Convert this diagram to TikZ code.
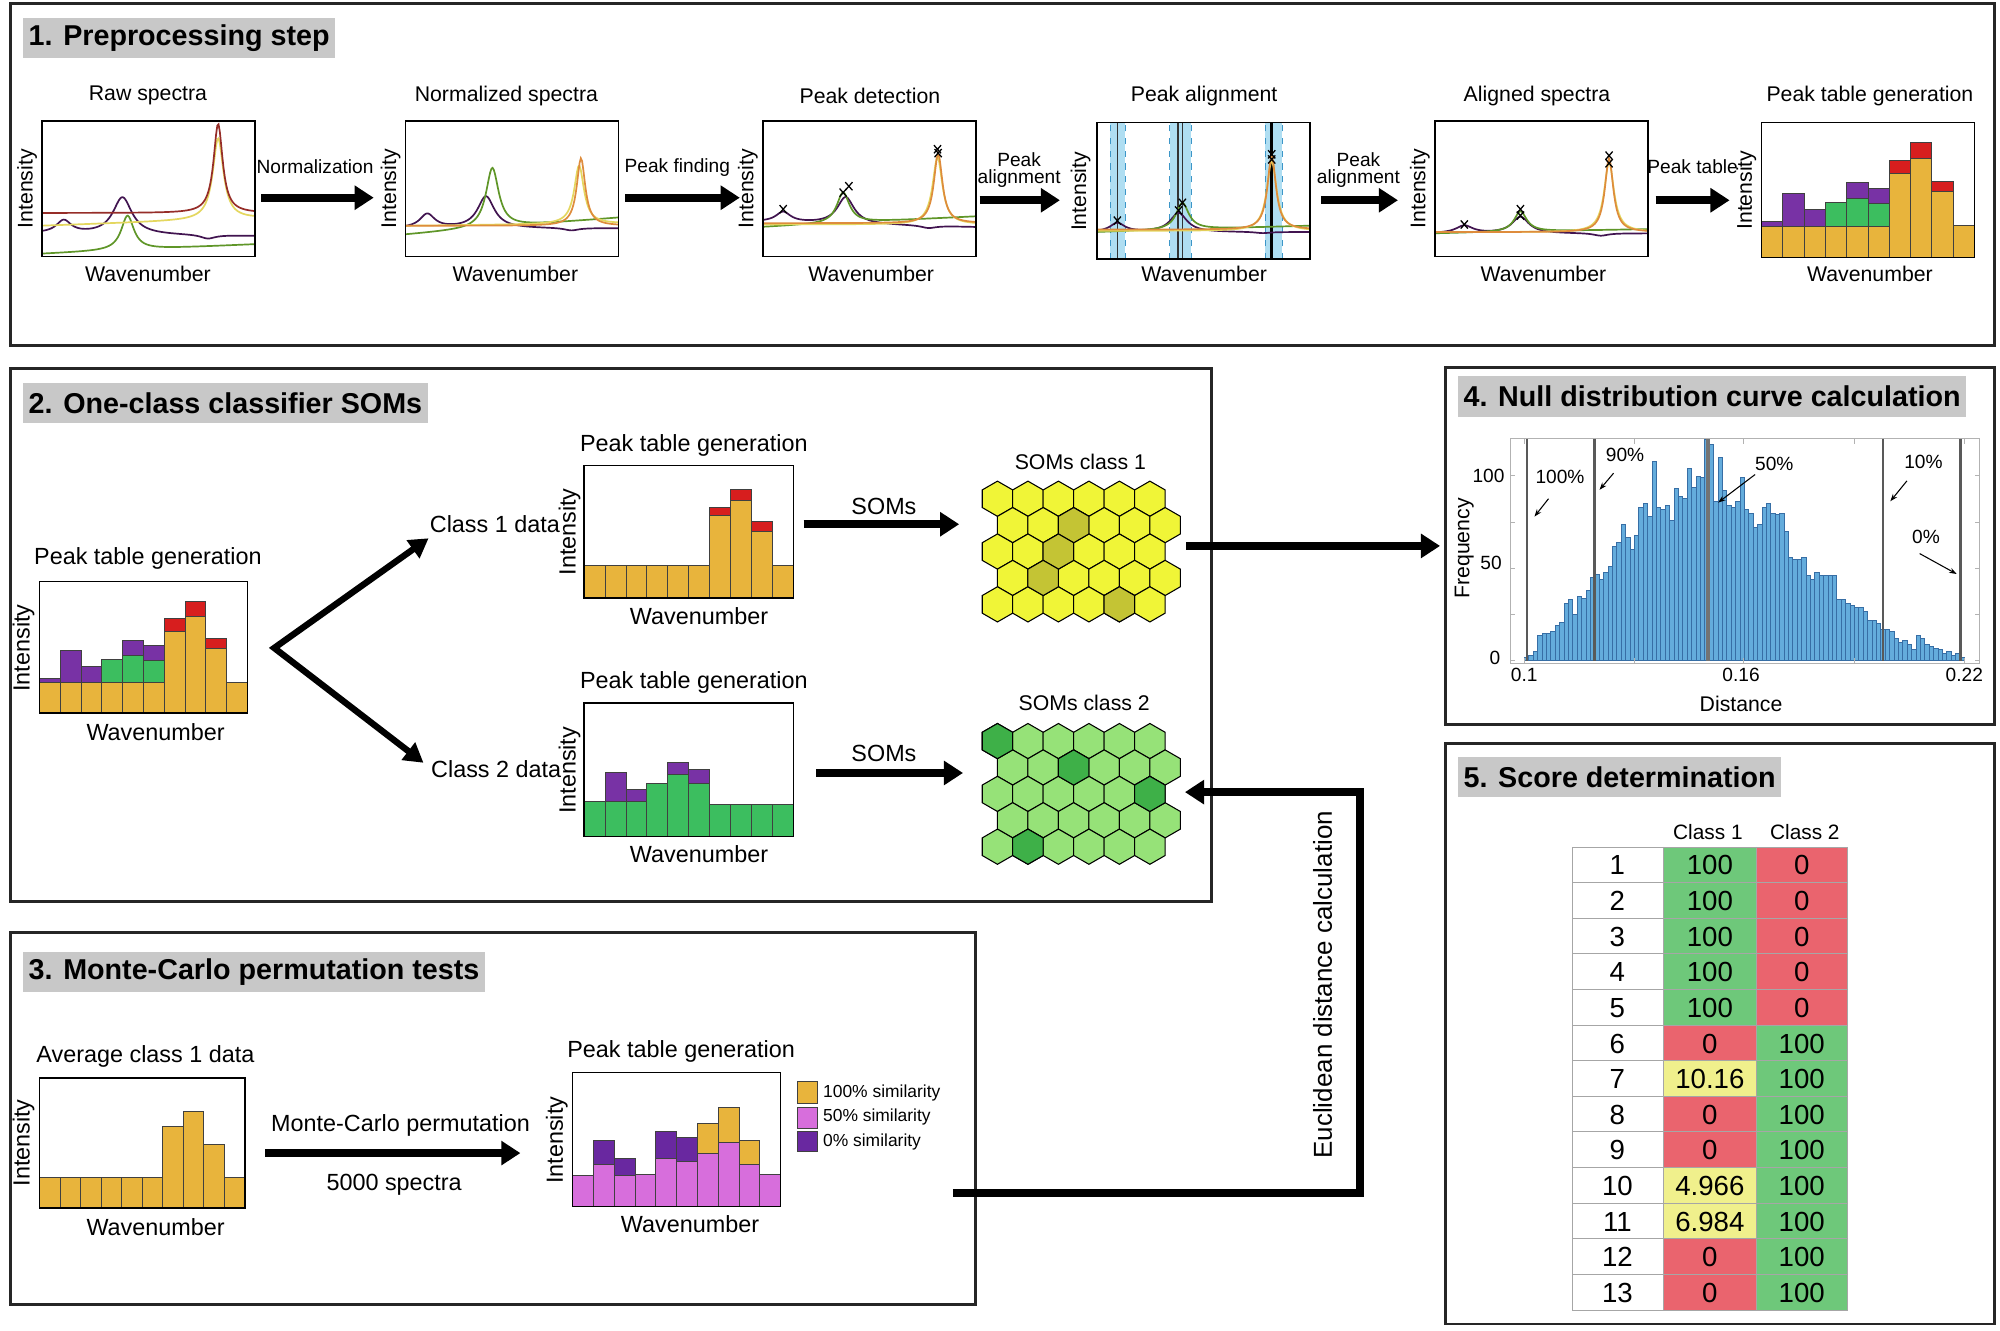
\documentclass[tikz,border=0pt]{standalone}
\usepackage{fontspec}
\setmainfont{Liberation Sans}
\usetikzlibrary{arrows.meta}
\definecolor{gold}{RGB}{232,180,60}
\definecolor{vio}{RGB}{120,50,165}
\definecolor{grn}{RGB}{60,190,95}
\definecolor{rd}{RGB}{215,30,30}
\definecolor{pink}{RGB}{215,110,220}
\definecolor{dvio}{RGB}{105,40,160}
\definecolor{titlegray}{RGB}{200,200,200}
\definecolor{cDR}{RGB}{150,45,40}
\definecolor{cYE}{RGB}{228,215,95}
\definecolor{cOR}{RGB}{222,140,60}
\definecolor{cPU}{RGB}{65,20,80}
\definecolor{cGR}{RGB}{95,150,40}
\definecolor{band}{RGB}{175,222,242}
\definecolor{bandline}{RGB}{60,150,200}
\definecolor{hexY}{RGB}{240,245,55}
\definecolor{hexYd}{RGB}{196,196,52}
\definecolor{hexG}{RGB}{150,226,120}
\definecolor{hexGd}{RGB}{62,176,72}
\definecolor{histfill}{RGB}{100,172,220}
\definecolor{histedge}{RGB}{55,110,165}
\definecolor{tgreen}{RGB}{110,200,122}
\definecolor{tred}{RGB}{234,100,110}
\definecolor{tyellow}{RGB}{240,240,140}
\newcommand\fsz[1]{\fontsize{#1}{#1}\selectfont}
\newcommand\seg[4]{\draw[barline, fill=#4] ({#1-1},#2) rectangle (#1,#3);}
\newcommand\xmk[2]{\draw[xmark] ({#1-2.8},{#2-3.2}) -- ({#1+2.8},{#2+3.2}) ({#1-2.8},{#2+3.2}) -- ({#1+2.8},{#2-3.2});}
\newcommand\hexgrid[5]{%
  \foreach \hr in {0,...,4}{\foreach \hc in {0,...,5}{%
    \pgfmathsetmacro\hx{#1+\hc*23.9+mod(\hr,2)*11.95}%
    \pgfmathsetmacro\hy{#2+\hr*20.7}%
    \draw[hexline, fill=#3] (\hx,\hy) +(30:13.8) -- +(90:13.8) -- +(150:13.8) -- +(210:13.8) -- +(270:13.8) -- +(330:13.8) -- cycle;}}%
  \foreach \hr/\hc in {#5}{%
    \pgfmathsetmacro\hx{#1+\hc*23.9+mod(\hr,2)*11.95}%
    \pgfmathsetmacro\hy{#2+\hr*20.7}%
    \draw[hexline, fill=#4] (\hx,\hy) +(30:13.8) -- +(90:13.8) -- +(150:13.8) -- +(210:13.8) -- +(270:13.8) -- +(330:13.8) -- cycle;}%
}
\newcommand\fullbars{%
  \seg{1}{0}{24.7}{gold}\seg{1}{24.7}{28}{vio}
  \seg{2}{0}{24.7}{gold}\seg{2}{24.7}{50.5}{vio}
  \seg{3}{0}{24.7}{gold}\seg{3}{24.7}{37.5}{vio}
  \seg{4}{0}{24.7}{gold}\seg{4}{24.7}{43.5}{grn}
  \seg{5}{0}{24.7}{gold}\seg{5}{24.7}{46.6}{grn}\seg{5}{46.6}{58.6}{vio}
  \seg{6}{0}{24.7}{gold}\seg{6}{24.7}{42.7}{grn}\seg{6}{42.7}{54.4}{vio}
  \seg{7}{0}{66}{gold}\seg{7}{66}{76}{rd}
  \seg{8}{0}{78}{gold}\seg{8}{78}{90}{rd}
  \seg{9}{0}{52}{gold}\seg{9}{52}{60}{rd}
  \seg{10}{0}{25}{gold}}
\tikzset{
  declare function={lor(\qa,\qb,\qc)=1/(1+((\qa-\qb)/\qc)*((\qa-\qb)/\qc));},
  panel/.style={draw=black!85, line width=1.4pt},
  ttl/.style={fill=titlegray, anchor=west, inner xsep=2.5pt, inner ysep=0pt, minimum height=19pt, font=\fsz{13.5}\bfseries},
  chartbox/.style={draw=black, line width=0.7pt},
  lblA/.style={font=\fsz{10}, inner sep=1pt},
  lblB/.style={font=\fsz{11}, inner sep=1pt},
  ylab/.style={rotate=90, anchor=south, inner sep=1pt},
  bigarrow/.style={line width=3.8pt, -{Triangle[length=9pt,width=11pt]}},
  branch/.style={line width=3pt, {Triangle[length=9pt,width=10pt]}-{Triangle[length=9pt,width=10pt]}},
  sp/.style={line width=0.8pt},
  xmark/.style={line width=0.6pt},
  barline/.style={draw=black!75, line width=0.45pt},
  hexline/.style={draw=black, line width=0.5pt},
  histbar/.style={fill=histfill, draw=histedge, line width=0.25pt},
  vline/.style={draw=black!65, line width=1.1pt},
  pctarrow/.style={line width=0.5pt, -{Stealth[length=3.5pt,width=2.5pt]}},
  tcell/.style={font=\fsz{13}, inner sep=0pt},
  tline/.style={draw=black!35, line width=0.4pt},
}
\begin{document}
\begin{tikzpicture}[x=0.6pt, y=-0.6pt]
\fill[white] (0,0) rectangle (1568,1043);
\useasboundingbox (0,0) rectangle (1568,1043);

% ================= Panel 1 =================
\draw[panel] (8,3) rectangle (1564,271);
\node[ttl] (t1) at (18,30) {1. Preprocessing step};

% --- Raw spectra
\node[lblA] (h11) at (116,75) {Raw spectra};
\begin{scope}[shift={(33,201)}, y=0.6pt]
  \clip (0,0) rectangle (167,106);
  \draw[sp,cGR] plot[domain=0:167,samples=170] (\x,{2+0.045*\x+27*lor(\x,67,6)});
  \draw[sp,cPU] plot[domain=0:167,samples=170] (\x,{18-2*\x/167+10*lor(\x,17,7)+29*lor(\x,63,9)-3*lor(\x,130,7)});
  \draw[sp,cYE] plot[domain=0:167,samples=170] (\x,{24+0.035*\x+64*lor(\x,138,5)});
  \draw[sp,cDR] plot[domain=0:167,samples=170] (\x,{34+70*lor(\x,138,4.3)});
\end{scope}
\draw[chartbox] (33,95) rectangle (200,201);
\node[lblA, ylab] at (31,148) {Intensity};
\node[lblA] at (116,215) {Wavenumber};

% --- Normalized spectra
\node[lblA] (h12) at (397,75) {Normalized spectra};
\begin{scope}[shift={(318,201)}, y=0.6pt]
  \clip (0,0) rectangle (167,106);
  \draw[sp,cPU] plot[domain=0:167,samples=170] (\x,{22+11*lor(\x,17,7)+25*lor(\x,63,8)-2*lor(\x,130,7)});
  \draw[sp,cGR] plot[domain=0:167,samples=170] (\x,{17+0.08*\x+47*lor(\x,68,6)});
  \draw[sp,cYE] plot[domain=0:167,samples=170] (\x,{24+0.01*\x+46*lor(\x,136,4.6)});
  \draw[sp,cOR] plot[domain=0:167,samples=170] (\x,{24+53*lor(\x,137.5,4)});
\end{scope}
\draw[chartbox] (318,95) rectangle (485,201);
\node[lblA, ylab] at (316,148) {Intensity};
\node[lblA] at (404,215) {Wavenumber};

% --- Peak detection
\node[lblA] (h13) at (682,75) {Peak detection};
\begin{scope}[shift={(598,201)}, y=0.6pt]
  \clip (0,0) rectangle (167,106);
  \draw[sp,cPU] plot[domain=0:167,samples=170] (\x,{27-4*\x/167+8*lor(\x,16,7)+21*lor(\x,65,8)-2*lor(\x,130,7)});
  \draw[sp,cGR] plot[domain=0:167,samples=170] (\x,{23+0.05*\x+24*lor(\x,63,6)});
  \draw[sp,cYE] plot[domain=0:167,samples=170] (\x,{25+53*lor(\x,137,4.6)});
  \draw[sp,cOR] plot[domain=0:167,samples=170] (\x,{26+55*lor(\x,137.5,4)});
  \xmk{16}{37}\xmk{63}{50}\xmk{67.5}{55}\xmk{137}{84}\xmk{137.5}{81}
\end{scope}
\draw[chartbox] (598,95) rectangle (765,201);
\node[lblA, ylab] at (596,148) {Intensity};
\node[lblA] at (683,215) {Wavenumber};

% --- Peak alignment
\node[lblA] (h14) at (944,75) {Peak alignment};
\begin{scope}[shift={(860,203)}, y=0.6pt]
  \clip (0,0) rectangle (167,107);
  \fill[band] (10.5,0) rectangle (22,107);
  \fill[band] (57,0) rectangle (74,107);
  \fill[band] (132,0) rectangle (145,107);
  \foreach \bx in {10.5,22,57,74,132,145}{\draw[bandline, dashed, line width=0.3pt] (\bx,0) -- (\bx,107);}
  \draw[line width=0.6pt, black!80] (16,0) -- (16,107);
  \draw[line width=0.6pt, black!80] (63.5,0) -- (63.5,107);
  \draw[line width=0.6pt, black!80] (67,0) -- (67,107);
  \draw[line width=1.3pt, black] (137,0) -- (137,107);
  \draw[sp,cPU] plot[domain=0:167,samples=170] (\x,{21+7*lor(\x,16,7)+15*lor(\x,64,8)-1*lor(\x,130,7)});
  \draw[sp,cGR] plot[domain=0:167,samples=170] (\x,{21+0.03*\x+21*lor(\x,67,6)});
  \draw[sp,cYE] plot[domain=0:167,samples=170] (\x,{22+55*lor(\x,137,4.6)});
  \draw[sp,cOR] plot[domain=0:167,samples=170] (\x,{23+58*lor(\x,137,4)});
  \xmk{16}{30}\xmk{64}{38}\xmk{67}{44}\xmk{137}{82}\xmk{137}{78}
\end{scope}
\draw[chartbox] (860,96) rectangle (1027,203);
\node[lblA, ylab] at (857,150) {Intensity};
\node[lblA] at (944,215) {Wavenumber};

% --- Aligned spectra
\node[lblA] (h15) at (1205,75) {Aligned spectra};
\begin{scope}[shift={(1125,201)}, y=0.6pt]
  \clip (0,0) rectangle (167,106);
  \draw[sp,cPU] plot[domain=0:167,samples=170] (\x,{18+6*lor(\x,23,8)+13*lor(\x,67,8)-2*lor(\x,130,7)});
  \draw[sp,cGR] plot[domain=0:167,samples=170] (\x,{18+0.02*\x+16*lor(\x,67,6)});
  \draw[sp,cYE] plot[domain=0:167,samples=170] (\x,{19+55*lor(\x,136.5,4.6)});
  \draw[sp,cOR] plot[domain=0:167,samples=170] (\x,{19+58*lor(\x,136.5,4)});
  \xmk{23}{25}\xmk{67}{37}\xmk{67}{32}\xmk{136.5}{79}\xmk{136.5}{73}
\end{scope}
\draw[chartbox] (1125,95) rectangle (1292,201);
\node[lblA, ylab] at (1123,148) {Intensity};
\node[lblA] at (1210,215) {Wavenumber};

% --- Peak table generation
\node[lblA] (h16) at (1466,75) {Peak table generation};
\begin{scope}[shift={(1381,202)}, y=0.6pt, x=10.02pt]
  \fullbars
\end{scope}
\draw[chartbox] (1381,96) rectangle (1548,202);
\node[lblA, ylab] at (1379,149) {Intensity};
\node[lblA] at (1466,215) {Wavenumber};

% arrows panel 1
\coordinate (a1s) at (205,155); \coordinate (a1e) at (293,155);
\coordinate (a2s) at (490,155); \coordinate (a2e) at (580,155);
\coordinate (a3s) at (768,157); \coordinate (a3e) at (831,157);
\coordinate (a4s) at (1036,157); \coordinate (a4e) at (1096,157);
\coordinate (a5s) at (1298,157); \coordinate (a5e) at (1356,157);
\draw[bigarrow] (a1s) -- (a1e);
\draw[bigarrow] (a2s) -- (a2e);
\draw[bigarrow] (a3s) -- (a3e);
\draw[bigarrow] (a4s) -- (a4e);
\draw[bigarrow] (a5s) -- (a5e);
\node[font=\fsz{9}, inner sep=0pt] at (247,131) {Normalization};
\node[font=\fsz{9}, inner sep=0pt] at (531,131) {Peak finding};
\node[font=\fsz{9}, inner sep=0pt, align=center] at (799,133) {Peak\\[-1pt]alignment};
\node[font=\fsz{9}, inner sep=0pt, align=center] at (1065,133) {Peak\\[-1pt]alignment};
\node[font=\fsz{9}, inner sep=0pt] at (1327,131) {Peak table};

% ================= Panel 2 =================
\draw[panel] (8,289) rectangle (950,707);
\node[ttl] (t2) at (18,316) {2. One-class classifier SOMs};

\node[lblB] at (116,438) {Peak table generation};
\begin{scope}[shift={(31,559)}, y=0.583pt, x=9.78pt]
  \fullbars
\end{scope}
\draw[chartbox] (31,456) rectangle (194,559);
\node[lblB, ylab] at (29,508) {Intensity};
\node[lblB] at (122,574) {Wavenumber};

% top chart class 1
\node[lblB] at (544,349) {Peak table generation};
\begin{scope}[shift={(458,469)}, y=0.6pt, x=9.84pt]
  \seg{1}{0}{25.4}{gold}\seg{2}{0}{25.4}{gold}\seg{3}{0}{25.4}{gold}
  \seg{4}{0}{25.4}{gold}\seg{5}{0}{25.4}{gold}\seg{6}{0}{25.4}{gold}
  \seg{7}{0}{65}{gold}\seg{7}{65}{71}{rd}
  \seg{8}{0}{77}{gold}\seg{8}{77}{85.6}{rd}
  \seg{9}{0}{52}{gold}\seg{9}{52}{60}{rd}
  \seg{10}{0}{25.4}{gold}
\end{scope}
\draw[chartbox] (458,365) rectangle (622,469);
\node[lblB, ylab] at (457,417) {Intensity};
\node[lblB] at (548,483) {Wavenumber};

% bottom chart class 2
\node[lblB] at (544,535) {Peak table generation};
\begin{scope}[shift={(458,656)}, y=0.6pt, x=9.84pt]
  \seg{1}{0}{28}{grn}
  \seg{2}{0}{28}{grn}\seg{2}{28}{50}{vio}
  \seg{3}{0}{28}{grn}\seg{3}{28}{37}{vio}
  \seg{4}{0}{42}{grn}
  \seg{5}{0}{49}{grn}\seg{5}{49}{58}{vio}
  \seg{6}{0}{41.5}{grn}\seg{6}{41.5}{53}{vio}
  \seg{7}{0}{25}{grn}\seg{8}{0}{25}{grn}\seg{9}{0}{25}{grn}\seg{10}{0}{25}{grn}
\end{scope}
\draw[chartbox] (458,551) rectangle (622,656);
\node[lblB, ylab] at (457,604) {Intensity};
\node[lblB] at (548,670) {Wavenumber};

\node[lblB] (cl1) at (388,411) {Class 1 data};
\node[lblB] (cl2) at (389,603) {Class 2 data};
\coordinate (fork) at (215,508);
\coordinate (c1in) at (336,422);
\coordinate (c2in) at (332,598);
\draw[branch] (c1in) -- (fork) -- (c2in);

\coordinate (s1s) at (630,411); \coordinate (s1e) at (752,411);
\coordinate (s2s) at (640,606); \coordinate (s2e) at (755,606);
\draw[bigarrow] (s1s) -- (s1e);
\draw[bigarrow] (s2s) -- (s2e);
\node[lblB] at (693,397) {SOMs};
\node[lblB] at (693,591) {SOMs};

\node[lblA] (som1) at (847,362) {SOMs class 1};
\hexgrid{782}{391}{hexY}{hexYd}{1/2,2/2,3/1,4/4}
\node[lblA] (som2) at (850,551) {SOMs class 2};
\hexgrid{782}{581}{hexG}{hexGd}{0/0,1/2,2/5,4/1}

% ================= Panel 3 =================
\draw[panel] (8,731) rectangle (765,1023);
\node[ttl] (t3) at (18,762) {3. Monte-Carlo permutation tests};

\node[lblB] at (114,828) {Average class 1 data};
\begin{scope}[shift={(31,947)}, y=0.6pt, x=9.66pt]
  \seg{1}{0}{24}{gold}\seg{2}{0}{24}{gold}\seg{3}{0}{24}{gold}
  \seg{4}{0}{24}{gold}\seg{5}{0}{24}{gold}\seg{6}{0}{24}{gold}
  \seg{7}{0}{64}{gold}\seg{8}{0}{76}{gold}\seg{9}{0}{50}{gold}\seg{10}{0}{24}{gold}
\end{scope}
\draw[chartbox] (31,845) rectangle (192,947);
\node[lblB, ylab] at (29,896) {Intensity};
\node[lblB] at (122,962) {Wavenumber};

\node[lblB] at (534,824) {Peak table generation};
\begin{scope}[shift={(449,946)}, y=0.6pt, x=9.78pt]
  \seg{1}{0}{24.4}{pink}
  \seg{2}{0}{33}{pink}\seg{2}{33}{51.5}{dvio}
  \seg{3}{0}{24.4}{pink}\seg{3}{24.4}{38}{dvio}
  \seg{4}{0}{25}{pink}
  \seg{5}{0}{38}{pink}\seg{5}{38}{59}{dvio}
  \seg{6}{0}{35.7}{pink}\seg{6}{35.7}{54}{dvio}
  \seg{7}{0}{42}{pink}\seg{7}{42}{65.6}{gold}
  \seg{8}{0}{50.7}{pink}\seg{8}{50.7}{77.7}{gold}
  \seg{9}{0}{33}{pink}\seg{9}{33}{51.5}{gold}
  \seg{10}{0}{25}{pink}
\end{scope}
\draw[chartbox] (449,841) rectangle (612,946);
\node[lblB, ylab] at (447,894) {Intensity};
\node[lblB] at (541,960) {Wavenumber};

\coordinate (m1s) at (208,904); \coordinate (m1e) at (408,904);
\draw[bigarrow] (m1s) -- (m1e);
\node[lblB] at (314,882) {Monte-Carlo permutation};
\node[lblB] at (309,929) {5000 spectra};

\draw[barline, fill=gold] (625,848) rectangle (641,865);
\draw[barline, fill=pink] (625,868) rectangle (641,885);
\draw[barline, fill=dvio] (625,887) rectangle (641,903);
\node[font=\fsz{8.2}, anchor=west, inner sep=0pt] at (645,857) {100\% similarity};
\node[font=\fsz{8.2}, anchor=west, inner sep=0pt] at (645,876) {50\% similarity};
\node[font=\fsz{8.2}, anchor=west, inner sep=0pt] at (645,895) {0\% similarity};

% ================= Panel 4 =================
\draw[panel] (1133,288) rectangle (1564,568);
\node[ttl] (t4) at (1143,311) {4. Null distribution curve calculation};
\begin{scope}
  \clip (1184,344) rectangle (1552,520);
  \foreach \h [count=\i from 0] in {2,3,5,14,15,15,16,19,21,31,33,25,35,34,38,45,47,44,48,51,62,64,74,67,60,68,83,85,78,108,83,82,84,76,93,89,88,104,94,100,99,120,117,86,110,92,84,83,86,99,82,80,72,74,83,85,80,79,80,70,56,55,55,56,46,44,48,46,46,46,46,33,33,31,30,29,29,27,22,22,20,17,17,16,12,10,11,9,6,14,12,9,8,7,6,4,5,3,4,2}{
    \draw[histbar] ({1195+\i*3.45},518) rectangle ({1195+(\i+1)*3.45},{518-\h*1.45});
  }
\end{scope}
\draw[draw=black!30, line width=0.4pt] (1184,344) rectangle (1552,520);
\foreach \ty in {518,481.75,445.5,409.25,373}{
  \draw[black!30, line width=0.4pt] (1184,\ty) -- (1188,\ty) (1552,\ty) -- (1548,\ty);}
\foreach \tx in {1195,1281,1367,1454,1540}{
  \draw[black!30, line width=0.4pt] (\tx,520) -- (\tx,516) (\tx,344) -- (\tx,348);}
\draw[vline] (1197,344) -- (1197,518);
\draw[vline] (1250,344) -- (1250,518);
\draw[draw=black!55, line width=2pt] (1339,344) -- (1339,518);
\draw[vline] (1476,344) -- (1476,518);
\draw[vline] (1537,344) -- (1537,518);
\node[font=\fsz{9}, inner sep=0pt] (p100) at (1223,374) {100\%};
\node[font=\fsz{9}, inner sep=0pt] (p90) at (1274,357) {90\%};
\node[font=\fsz{9}, inner sep=0pt] (p50) at (1391,364) {50\%};
\node[font=\fsz{9}, inner sep=0pt] (p10) at (1508,362) {10\%};
\node[font=\fsz{9}, inner sep=0pt] (p0) at (1510,421) {0\%};
\coordinate (q100) at (1203,405); \coordinate (q90) at (1254,384);
\coordinate (q50) at (1347,394); \coordinate (q10) at (1482,393);
\coordinate (q0) at (1534,450);
\draw[pctarrow] (1214,391) -- (q100);
\draw[pctarrow] (1265,371) -- (q90);
\draw[pctarrow] (1376,372) -- (q50);
\draw[pctarrow] (1495,377) -- (q10);
\draw[pctarrow] (1505,434) -- (q0);
\node[font=\fsz{9}, inner sep=0pt] at (1167,373) {100};
\node[font=\fsz{9}, inner sep=0pt] at (1169,441) {50};
\node[font=\fsz{9}, inner sep=0pt] at (1172,516) {0};
\node[font=\fsz{9}, inner sep=0pt] at (1195,529) {0.1};
\node[font=\fsz{9}, inner sep=0pt] at (1365,529) {0.16};
\node[font=\fsz{9}, inner sep=0pt] at (1540,529) {0.22};
\node[font=\fsz{10}, inner sep=0pt] at (1365,552) {Distance};
\node[font=\fsz{10}, rotate=90, inner sep=0pt] at (1148,430) {Frequency};

% ================= Panel 5 =================
\draw[panel] (1133,583) rectangle (1564,1038);
\node[ttl] (t5) at (1143,609) {5. Score determination};
\node[font=\fsz{9.8}, inner sep=0pt] at (1339,652) {Class 1};
\node[font=\fsz{9.8}, inner sep=0pt] at (1415,652) {Class 2};
\foreach \rn/\va/\ca/\vb/\cb in {1/100/tgreen/0/tred, 2/100/tgreen/0/tred, 3/100/tgreen/0/tred, 4/100/tgreen/0/tred, 5/100/tgreen/0/tred, 6/0/tred/100/tgreen, 7/10.16/tyellow/100/tgreen, 8/0/tred/100/tgreen, 9/0/tred/100/tgreen, 10/4.966/tyellow/100/tgreen, 11/6.984/tyellow/100/tgreen, 12/0/tred/100/tgreen, 13/0/tred/100/tgreen}{
  \pgfmathsetmacro\yt{664+(\rn-1)*27.92}
  \pgfmathsetmacro\yb{\yt+27.92}
  \pgfmathsetmacro\ym{\yt+14.5}
  \fill[\ca] (1304,\yt) rectangle (1377,\yb);
  \fill[\cb] (1377,\yt) rectangle (1448,\yb);
  \draw[tline] (1233,\yt) rectangle (1448,\yb);
  \node[tcell] at (1268,\ym) {\rn};
  \node[tcell] at (1340.5,\ym) {\va};
  \node[tcell] at (1412.5,\ym) {\vb};
}
\draw[tline] (1304,664) -- (1304,1027);
\draw[tline] (1377,664) -- (1377,1027);

% ================= Connectors between panels =================
\coordinate (k1s) at (930,428); \coordinate (k1e) at (1129,428);
\draw[bigarrow] (k1s) -- (k1e);
\coordinate (e0) at (747,935); \coordinate (e1) at (1066,935);
\coordinate (e2) at (1066,621); \coordinate (e3) at (929,621);
\draw[bigarrow] (e0) -- (e1) -- (e2) -- (e3);
\node[font=\fsz{12.2}, rotate=90, inner sep=0pt] at (1037,772) {Euclidean distance calculation};
\end{tikzpicture}
\end{document}
